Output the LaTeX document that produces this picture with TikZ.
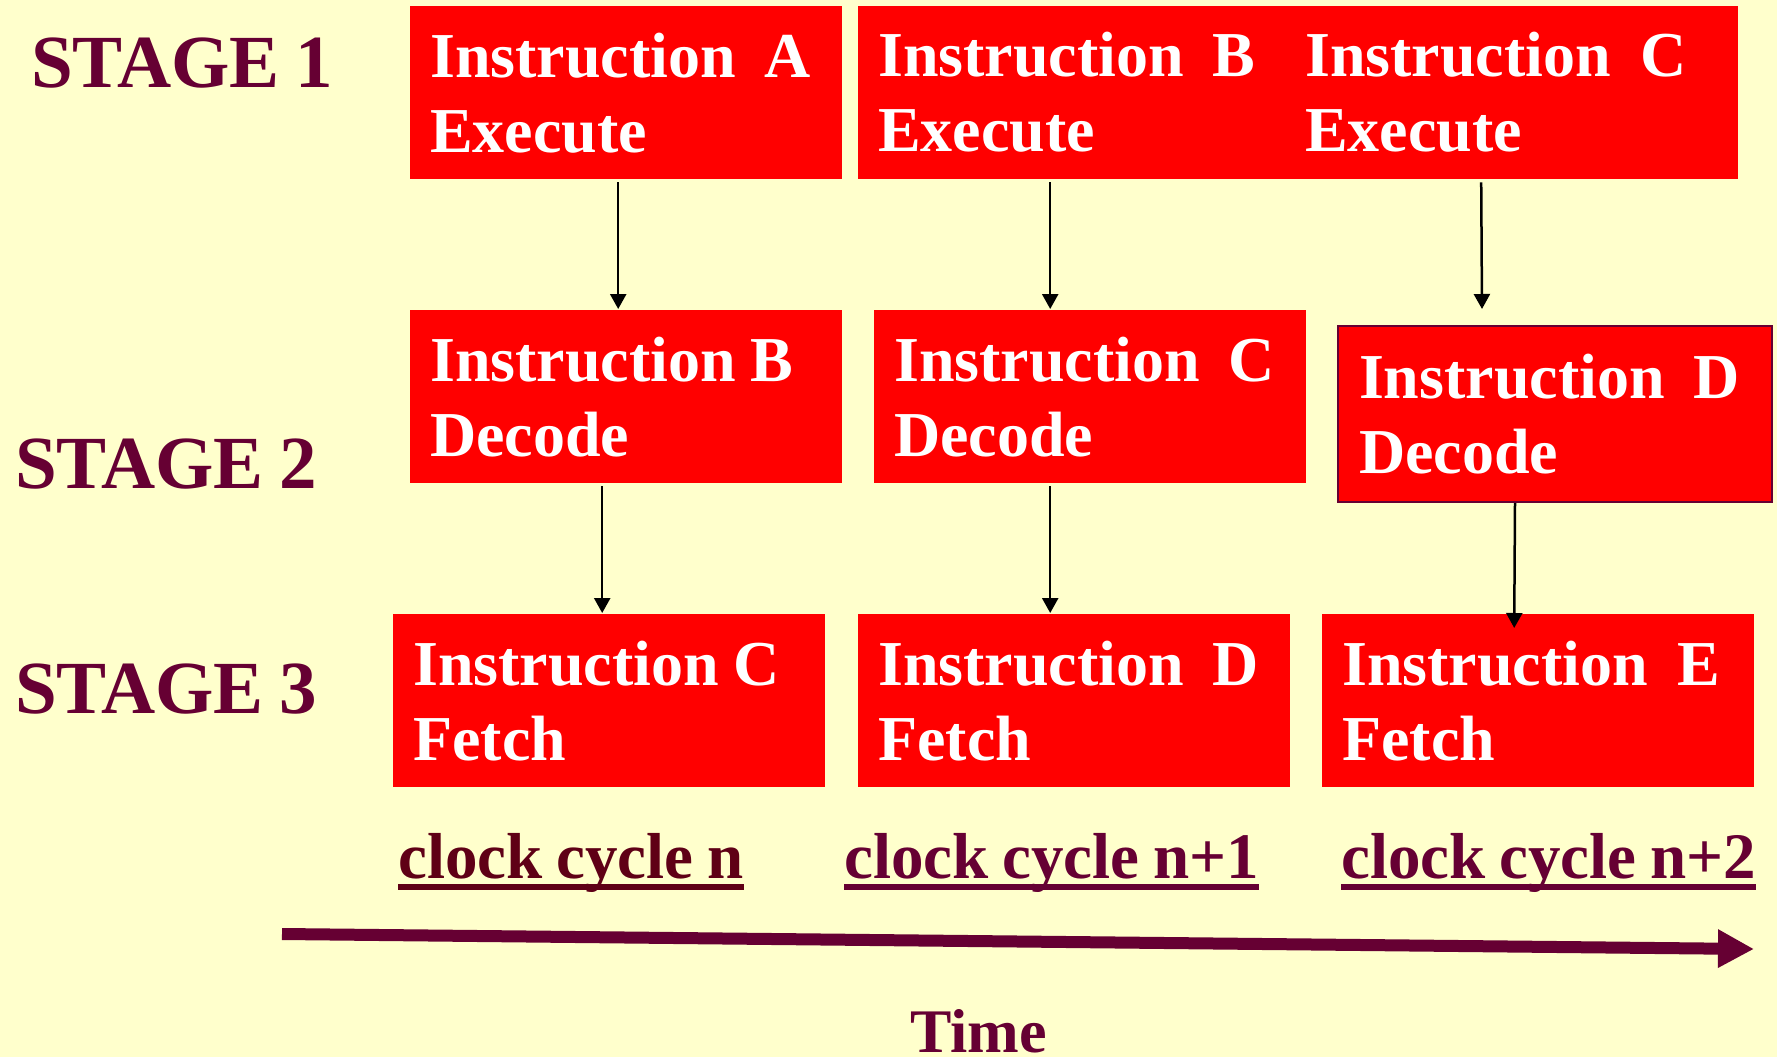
\documentclass[tikz,border=0pt]{standalone}
\usepackage{fontspec}
\setmainfont{Liberation Serif}[WordSpace=0.85]
\usetikzlibrary{arrows.meta}
\definecolor{bg}{HTML}{FFFFCC}
\definecolor{maroon}{HTML}{660033}
\definecolor{maroonb}{HTML}{5F0016}
\definecolor{boxred}{HTML}{FF0000}
\newcommand\gapsingle{\nobreak\hspace{14.5pt}\nobreak}
\newcommand\gapdouble{\nobreak\hspace{29pt}\nobreak}
\begin{document}
\begin{tikzpicture}[x=1pt,y=-1pt,
  box/.style={fill=boxred, draw=none, anchor=north west, minimum width=432pt,
    minimum height=173pt, inner xsep=20pt, inner ysep=0pt, text width=392pt,
    align=left, text=white, font=\fontsize{64}{75}\selectfont\bfseries, text height=45pt},
  boxtxt/.style={anchor=base west, inner sep=0pt, text width=420pt, align=left,
    text=white, font=\fontsize{64}{75}\selectfont\bfseries},
  stagelbl/.style={anchor=base west, inner sep=0pt, text=maroon,
    font=\fontsize{75}{80}\selectfont\bfseries},
  clocklbl/.style={anchor=base west, inner sep=0pt, text=maroon,
    font=\fontsize{65}{75}\selectfont\bfseries},
  uline/.style={line width=6pt, draw=maroon},
  arr/.style={draw=black, line width=2.5pt, -{Triangle[length=15pt,width=16pt]}},
  timearr/.style={draw=maroon, line width=12pt, -{Triangle[length=36pt,width=36pt]}}
]
\path[fill=bg] (0,0) rectangle (1777,1057);
\useasboundingbox (0,0) rectangle (1777,1057);

% stage labels
\node[stagelbl] (s1) at (31,88) {STAGE 1};
\node[stagelbl] (s2) at (15,488) {STAGE 2};
\node[stagelbl] (s3) at (15,713) {STAGE 3};

% stage 1 row
\node[box] (aexec) at (410,6) {Instruction\gapdouble A\\Execute};
\node[box, minimum width=880pt, text width=840pt] (bcexec) at (858,6) {};
\node[boxtxt] (bexec) at (878,77) {Instruction\gapdouble B\\Execute};
\node[boxtxt] (cexec) at (1305,77) {Instruction\gapdouble C\\Execute};

% stage 2 row
\node[box] (bdec) at (410,310) {Instruction\gapsingle B\\Decode};
\node[box] (cdec) at (874,310) {Instruction\gapdouble C\\Decode};
\node[box, draw=maroon, line width=2pt, minimum width=434pt, minimum height=176pt,
  inner xsep=21pt] (ddec) at (1337,325) {Instruction\gapdouble D\\Decode};

% stage 3 row
\node[box] (cfetch) at (393,614) {Instruction\gapsingle C\\Fetch};
\node[box] (dfetch) at (858,614) {Instruction\gapdouble D\\Fetch};
\node[box] (efetch) at (1322,614) {Instruction\gapdouble E\\Fetch};

% arrows stage 1 -> stage 2
\draw[arr] ([xshift=-8pt,yshift=-3pt]aexec.south) -- ([xshift=-8pt,yshift=1pt]bdec.north);
\draw[arr] ([xshift=-248pt,yshift=-3pt]bcexec.south) -- ([xshift=-40pt,yshift=1pt]cdec.north);
\draw[arr] ([xshift=183pt,yshift=-3pt]bcexec.south) -- ([xshift=-73pt,yshift=16pt]ddec.north);

% arrows stage 2 -> stage 3
\draw[arr] ([xshift=-24pt,yshift=-3pt]bdec.south) -- ([xshift=-7pt,yshift=1pt]cfetch.north);
\draw[arr] ([xshift=-40pt,yshift=-3pt]cdec.south) -- ([xshift=-24pt,yshift=1pt]dfetch.north);
\draw[arr] ([xshift=-40pt]ddec.south) -- ([xshift=-24pt,yshift=-14pt]efetch.north);

% clock cycle labels
\node[clocklbl, text=maroonb] (cc0) at (398,878) {clock cycle n};
\node[clocklbl] (cc1) at (844,878) {clock cycle n+1};
\node[clocklbl] (cc2) at (1341,878) {clock cycle n+2};
\draw[uline, draw=maroonb] ([yshift=-9pt]cc0.base west) -- ([yshift=-9pt]cc0.base east);
\draw[uline] ([yshift=-9pt]cc1.base west) -- ([yshift=-9pt]cc1.base east);
\draw[uline] ([yshift=-9pt]cc2.base west) -- ([yshift=-9pt]cc2.base east);

% time arrow
\coordinate (t0) at (282,934);
\coordinate (t1) at (1754,949);
\draw[timearr] (t0) -- (t1);
\node[anchor=base west, inner sep=0pt, text=maroon, font=\fontsize{62}{70}\selectfont\bfseries] (time) at (910,1052) {Time};
\end{tikzpicture}
\end{document}
